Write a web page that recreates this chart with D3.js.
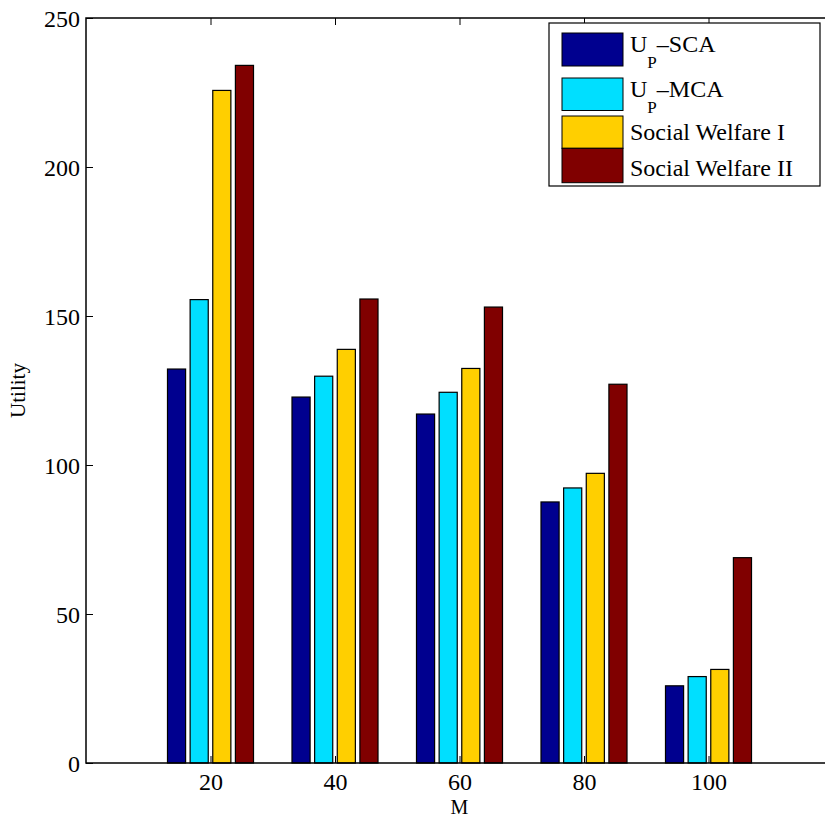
<!DOCTYPE html>
<html>
<head>
<meta charset="utf-8">
<script src="https://cdn.jsdelivr.net/npm/d3@7"></script>
<style>
  html, body { margin: 0; padding: 0; background: #fff; }
  svg { display: block; font-family: "Liberation Serif", "Times New Roman", serif; }
</style>
</head>
<body>
<svg id="chart" width="825" height="818"></svg>
<script>
// ---- data ----
const categories = [20, 40, 60, 80, 100];
const seriesNames = ["U_P\u2013SCA", "U_P\u2013MCA", "Social Welfare I", "Social Welfare II"];
const seriesColors = ["#00008f", "#00dfff", "#ffcf00", "#800000"];
const upSCA = [132.2, 122.8, 117.1, 87.6, 25.9];
const upMCA = [155.5, 129.8, 124.4, 92.3, 29.0];
const socialWelfareI = [225.7, 138.8, 132.4, 97.2, 31.4];
const socialWelfareII = [234.1, 155.7, 153.0, 127.1, 68.9];
const yTicks = [0, 50, 100, 150, 200, 250];
const xLabel = "M";
const yLabel = "Utility";

const seriesValues = [upSCA, upMCA, socialWelfareI, socialWelfareII];

// ---- layout ----
const pLeft = 86, pTop = 18, pBottom = 763, pRight = 833;
const svg = d3.select("#chart");
const x = d3.scaleLinear().domain([0, 120]).range([pLeft, pRight]);
const y = d3.scaleLinear().domain([0, 250]).range([pBottom, pTop]);

// grouped bar geometry (MATLAB style)
const nS = seriesValues.length;
const groupW = 20 * Math.min(0.8, nS / (nS + 1.5));
const step = groupW / nS;
const barW = step * 0.8;

// bars
seriesValues.forEach((vals, si) => {
  svg.append("g").selectAll("rect")
    .data(vals.map((v, i) => ({ c: categories[i], v })))
    .join("rect")
    .attr("x", d => x(d.c + (si - (nS - 1) / 2) * step - barW / 2))
    .attr("width", x(barW) - x(0))
    .attr("y", d => y(d.v))
    .attr("height", d => y(0) - y(d.v))
    .attr("fill", seriesColors[si])
    .attr("stroke", "#000")
    .attr("stroke-width", 1.2);
});

// axes
const fs = 24;
const yAxis = d3.axisLeft(y).tickValues(yTicks).tickSize(-7).tickPadding(6).tickFormat(d3.format("d"));
const gy = svg.append("g").attr("transform", `translate(${pLeft},0)`).call(yAxis);
const yAxisR = d3.axisRight(y).tickValues(yTicks).tickSize(-7).tickFormat("");
svg.append("g").attr("transform", `translate(${pRight},0)`).call(yAxisR);
const xAxis = d3.axisBottom(x).tickValues(categories).tickSize(-7).tickPadding(10).tickFormat(d3.format("d"));
const gx = svg.append("g").attr("transform", `translate(0,${pBottom})`).call(xAxis);
const xAxisT = d3.axisTop(x).tickValues(categories).tickSize(-7).tickFormat("");
svg.append("g").attr("transform", `translate(0,${pTop})`).call(xAxisT);

svg.selectAll(".domain").remove();
svg.selectAll(".tick line").attr("stroke", "#000").attr("stroke-width", 1);
svg.selectAll(".tick text").attr("font-family", "Liberation Serif, serif").attr("font-size", fs).attr("fill", "#000");
gy.selectAll(".tick text").attr("dy", "0.37em");
gx.selectAll(".tick text").attr("dy", "0.71em");

// plot box
svg.append("rect")
  .attr("x", pLeft).attr("y", pTop)
  .attr("width", pRight - pLeft).attr("height", pBottom - pTop)
  .attr("fill", "none").attr("stroke", "#000").attr("stroke-width", 1.5);

// axis labels
svg.append("text")
  .attr("x", (pLeft + pRight) / 2).attr("y", 814)
  .attr("text-anchor", "middle").attr("font-size", 20).text(xLabel);
svg.append("text")
  .attr("transform", `translate(25,${(pTop + pBottom) / 2}) rotate(-90)`)
  .attr("text-anchor", "middle").attr("font-size", 21).text(yLabel);

// legend
const lg = svg.append("g");
lg.append("rect").attr("x", 549).attr("y", 23).attr("width", 271).attr("height", 163)
  .attr("fill", "#fff").attr("stroke", "#000").attr("stroke-width", 1.2);
const swY = [33, 78, 116, 148.3];
const swH = [33, 32.5, 32.3, 34.4];
const txtY = [51.7, 96.7, 140, 175.7];
seriesNames.forEach((name, i) => {
  lg.append("rect").attr("x", 562).attr("y", swY[i]).attr("width", 61).attr("height", swH[i])
    .attr("fill", seriesColors[i]).attr("stroke", "#000").attr("stroke-width", 1);
  const t = lg.append("text").attr("x", 630).attr("y", txtY[i]).attr("font-size", fs);
  const m = name.match(/^(.*?)_(.)(.*)$/);
  if (m) {
    t.append("tspan").text(m[1]);
    t.append("tspan").attr("font-size", 17).attr("dy", 16.5).text(m[2]);
    t.append("tspan").attr("dy", -16.5).text(m[3]);
  } else {
    t.text(name);
  }
});
</script>
</body>
</html>
